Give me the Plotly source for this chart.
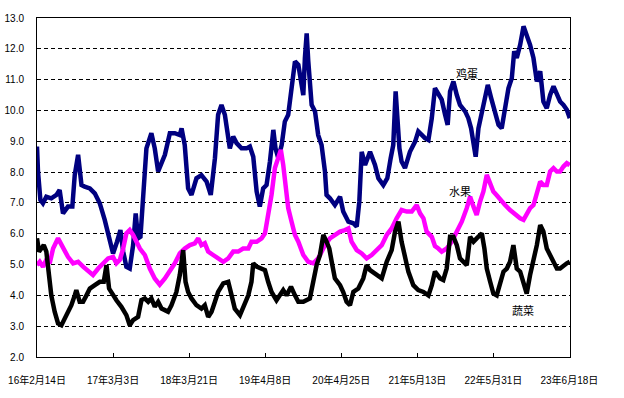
import plotly.graph_objects as go

# x = day index from the first date; each tick interval = 383 days
tick_days = [0, 383, 766, 1149, 1532, 1915, 2298, 2681]
tick_labels = ["16年2月14日", "17年3月3日", "18年3月21日", "19年4月8日",
               "20年4月25日", "21年5月13日", "22年5月31日", "23年6月18日"]

egg_days = [0, 5, 17, 30, 47, 72, 98, 114, 131, 156, 178, 190, 207, 224, 240, 266, 291, 316, 341, 366,
            383, 403, 420, 434, 450, 467, 484, 497, 509, 521, 534, 551, 576, 593, 610, 635,
            644, 669, 694, 719, 728, 744, 761, 778, 803, 828, 854, 875, 896, 912, 929, 946, 954, 971,
            988, 1005, 1030, 1055, 1072, 1089, 1106, 1122, 1139, 1156, 1173, 1190, 1201, 1215, 1232,
            1248, 1265, 1282, 1299, 1316, 1332, 1341, 1349, 1358, 1366, 1374, 1383, 1400, 1416, 1433,
            1442, 1450, 1458, 1475, 1500, 1526, 1542, 1568, 1593, 1610, 1623, 1635, 1652, 1677, 1702,
            1719, 1744, 1764, 1781, 1794, 1806, 1815, 1825, 1836, 1853, 1878, 1904, 1920, 1937, 1954,
            1971, 1988, 2004, 2021, 2038, 2055, 2068, 2080, 2097, 2114, 2130, 2156, 2172, 2186, 2198,
            2209, 2223, 2240, 2256, 2270, 2287, 2307, 2324, 2340, 2357, 2374, 2391, 2403, 2416, 2433,
            2450, 2466, 2483, 2500, 2517, 2534, 2550, 2567, 2584, 2601, 2618, 2634, 2651, 2668, 2683]
egg_vals = [8.83, 8.02, 7.10, 6.99, 7.20, 7.15, 7.26, 7.42, 6.66, 6.88, 6.88, 7.90, 8.56, 7.58, 7.53, 7.47,
            7.31, 6.99, 6.45, 5.74, 5.36, 5.74, 6.12, 5.42, 4.93, 4.87, 5.63, 6.66, 5.85, 5.90, 7.04,
            8.77, 9.26, 8.77, 8.02, 8.45,
            8.56, 9.26, 9.26, 9.20, 9.42, 8.88, 7.47, 7.26, 7.80, 7.90, 7.69, 7.26, 8.45, 9.86, 10.18,
            9.86, 9.42, 8.77, 9.15, 8.94, 8.77, 8.77, 8.83, 8.50, 7.37, 6.88, 7.47, 7.58, 8.34, 9.37,
            8.77, 8.45, 8.88, 9.64, 9.86, 10.72, 11.59, 11.48, 10.90, 10.50, 11.70, 12.50, 11.60,
            10.94, 10.18, 9.97, 9.20, 8.88, 8.45, 8.02, 7.26, 7.15, 6.93, 7.20, 6.72, 6.39, 6.34,
            6.23, 7.04, 8.66, 8.23, 8.66, 8.23, 7.80, 7.58, 7.80, 8.45, 8.88, 10.62, 9.86, 8.77, 8.34,
            8.13, 8.66, 8.99, 9.32, 9.20, 9.10, 9.04, 9.75, 10.72, 10.50, 10.35, 9.86, 9.53, 10.62,
            10.94, 10.50, 10.18, 9.97, 9.75, 9.42, 8.99, 8.50, 9.42, 9.97, 10.40, 10.83, 10.40, 9.86,
            9.53, 9.42, 10.18, 10.72, 11.05, 11.92, 11.70, 12.13, 12.73, 12.46, 12.13, 11.70, 10.94,
            11.27, 10.29, 10.07, 10.50, 10.78, 10.50, 10.29, 10.18, 10.02, 9.75]

fruit_days = [0, 14, 30, 47, 64, 81, 106, 131, 156, 182, 207, 232, 257, 282, 308, 333, 358, 383, 400,
              417, 434, 450, 467, 484, 501, 518, 543, 568, 593, 618,
              644, 669, 694, 719, 744, 770, 795, 812, 828, 845, 862, 887, 912, 938, 963, 988, 1013,
              1038, 1064, 1080, 1106, 1131, 1148, 1164, 1181, 1198, 1215, 1228, 1240, 1252, 1265,
              1282, 1299, 1316, 1341, 1366, 1391, 1416, 1433, 1450, 1475, 1500, 1526, 1551, 1568,
              1584, 1610, 1635, 1660, 1685, 1710, 1736, 1761, 1786, 1811, 1836, 1862, 1887, 1912,
              1929, 1946, 1962, 1988, 2004, 2021, 2038, 2063, 2088, 2114, 2139, 2164, 2181, 2198,
              2214, 2231, 2248, 2265, 2282, 2298, 2315, 2332, 2357, 2382, 2408, 2433, 2450, 2466,
              2483, 2500, 2517, 2534, 2550, 2567, 2584, 2601, 2618, 2634, 2651, 2668, 2683]
fruit_vals = [4.98, 5.09, 4.93, 5.15, 5.04, 5.52, 5.85, 5.52, 5.25, 5.04, 5.09, 4.93, 4.77, 4.66, 4.87,
              5.04, 5.20, 5.25, 5.04, 5.15, 5.52, 6.01, 6.12, 5.96, 5.74, 5.52, 5.31, 4.87, 4.55, 4.35,
              4.55, 4.77, 5.04, 5.36, 5.52, 5.63, 5.69, 5.85, 5.63, 5.69, 5.42, 5.31, 5.20, 5.09, 5.20,
              5.42, 5.42, 5.52, 5.52, 5.74, 5.74, 5.85, 6.01, 6.61, 7.26, 8.13, 8.45, 8.72, 8.23, 7.37,
              6.83, 6.39, 5.96, 5.74, 5.31, 5.09, 5.04, 5.20, 5.42, 5.63, 5.85, 5.96, 6.07, 6.12, 6.17,
              5.74, 5.47, 5.36, 5.20, 5.31, 5.47, 5.63, 5.96, 6.17, 6.50, 6.77, 6.72, 6.72, 6.93, 6.66,
              6.50, 6.07, 5.90, 5.60, 5.52, 5.42, 5.52, 5.74, 6.07, 6.39, 6.83, 7.20, 6.88, 6.61, 7.04,
              7.37, 7.91, 7.60, 7.37, 7.25, 7.10, 6.93, 6.77, 6.61, 6.50, 6.45, 6.61, 6.83, 6.93, 7.26,
              7.69, 7.58, 7.58, 8.02, 8.13, 8.02, 8.02, 8.18, 8.29, 8.23]

veg_days = [0, 10, 22, 34, 47, 60, 72, 89, 106, 123, 140, 156, 173, 190, 198, 215, 232, 249, 266, 291,
            316, 336, 350, 363, 383, 400, 425, 450, 467, 484, 509, 526, 543, 560, 576, 593, 610, 627,
            644, 660, 677, 702, 719, 736, 748, 761, 778, 803, 828, 845, 862, 879, 896, 912, 938, 963,
            980, 996, 1022, 1047, 1064, 1080, 1089, 1106, 1131, 1148, 1164, 1181, 1206, 1223, 1240,
            1257, 1279, 1299, 1316, 1341, 1374, 1391, 1408, 1425, 1442, 1458, 1472, 1484, 1500, 1526,
            1542, 1559, 1576, 1593, 1618, 1643, 1660, 1677, 1702, 1736, 1761, 1786, 1803, 1820, 1836,
            1853, 1870, 1895, 1920, 1946, 1971, 1988, 2004, 2030, 2046, 2063, 2080, 2097, 2114, 2130,
            2147, 2164, 2181, 2198, 2214, 2240, 2253, 2265, 2282, 2298, 2315, 2332, 2349, 2366, 2382,
            2399, 2416, 2433, 2450, 2466, 2483, 2500, 2517, 2534, 2550, 2567, 2584, 2601, 2618, 2634,
            2651, 2668, 2683]
veg_vals = [5.85, 5.42, 5.52, 5.63, 5.42, 4.66, 4.00, 3.47, 3.09, 3.03, 3.25, 3.47, 3.68, 4.00, 4.17,
            3.79, 3.79, 4.00, 4.22, 4.33, 4.44, 4.44, 4.98, 4.22, 4.00, 3.84, 3.63, 3.36, 3.03, 3.20,
            3.30, 3.85, 3.90, 3.79, 3.90, 3.63, 3.79, 3.57,
            3.52, 3.47, 3.68, 4.11, 4.66, 5.47, 4.44, 4.11, 3.90, 3.68, 3.57, 3.68, 3.30, 3.47, 3.79,
            4.11, 4.39, 4.44, 4.00, 3.57, 3.36, 3.79, 4.00, 4.44, 5.04, 4.93, 4.87, 4.82, 4.44, 4.11,
            3.84, 4.00, 4.17, 4.00, 4.28, 4.00, 3.79, 3.79, 3.90, 4.44, 4.98, 5.31, 5.96, 5.74, 5.52,
            5.09, 4.55, 4.33, 4.11, 3.79, 3.68, 4.11, 4.22, 4.55, 4.98, 4.82, 4.71, 4.55, 5.09, 5.47,
            6.07, 6.39, 5.74, 5.31, 4.77, 4.33, 4.17, 4.11, 4.00, 4.33, 4.77, 4.55, 4.50, 4.87, 5.90,
            5.90, 5.63, 5.20, 5.09, 4.98, 5.90, 5.74, 5.85, 6.01, 5.52, 4.87, 4.44, 4.06, 4.00, 4.33,
            4.77, 4.87, 5.09, 5.63, 4.87, 4.77, 4.44, 4.06, 4.66, 5.09, 5.63, 6.28, 6.07, 5.52, 5.31,
            5.09, 4.87, 4.87, 4.98, 5.04, 5.09]

series = [
    ("鸡蛋", egg_days, egg_vals, "#000080"),
    ("水果", fruit_days, fruit_vals, "#FF00FF"),
    ("蔬菜", veg_days, veg_vals, "#000000"),
]

FONT = "Liberation Sans, Noto Sans CJK SC, sans-serif"

fig = go.Figure()
for name, xs, ys, color in series:
    fig.add_trace(go.Scatter(x=xs, y=ys, name=name, mode="lines",
                             line=dict(color=color, width=4.5), showlegend=False))

labels = [("鸡蛋", 2166, 11.2), ("水果", 2130, 7.35), ("蔬菜", 2448, 3.5)]
for txt, lx, ly in labels:
    fig.add_annotation(x=lx, y=ly, text=txt, showarrow=False,
                       font=dict(family=FONT, size=11, color="#000000"))

fig.update_layout(
    template="none",
    width=624, height=398,
    margin=dict(l=37, r=54, t=18, b=41, autoexpand=False),
    paper_bgcolor="white", plot_bgcolor="white",
    font=dict(family=FONT, size=10, color="#000000"),
)
fig.update_xaxes(
    automargin=False,
    range=[0, 2684], tickvals=tick_days, ticktext=tick_labels,
    showgrid=False, zeroline=False, showline=True, linecolor="black", linewidth=1,
    mirror=True, ticks="inside", ticklen=4, tickcolor="black",
    ticklabelstandoff=14, tickfont=dict(size=10),
)
fig.update_yaxes(
    automargin=False,
    range=[2, 13], dtick=1, tick0=2, tickformat=".1f",
    showgrid=True, gridcolor="black", gridwidth=1, griddash="4px,3px",
    zeroline=False, showline=True, linecolor="black", linewidth=1, mirror=True,
    ticks="", ticklabelstandoff=10, tickfont=dict(size=10),
)

# remove the default page margin so the figure fills the window exactly
fig.write_html("out.html",
               config={"displayModeBar": False},
               post_script="document.body.style.margin='0';document.body.style.overflow='hidden';")
